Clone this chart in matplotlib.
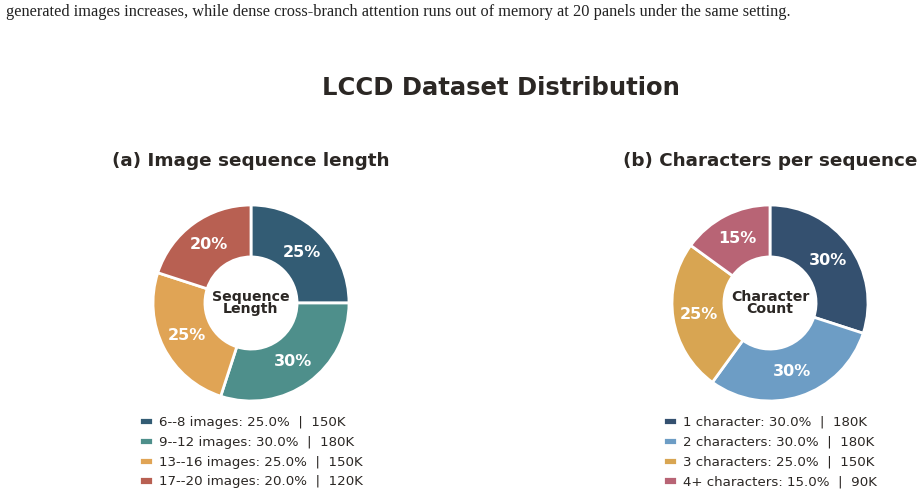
import matplotlib
matplotlib.use("Agg")
import matplotlib.pyplot as plt

plt.rcParams["font.family"] = ["DejaVu Sans"]

# ---- data ----
caption = ("generated images increases, while dense cross-branch attention runs out of "
           "memory at 20 panels under the same setting.")
main_title = "LCCD Dataset Distribution"

a_title = "(a) Image sequence length"
a_center = "Sequence\nLength"
a_labels = ["6--8 images", "9--12 images", "13--16 images", "17--20 images"]
a_counts = [150, 180, 150, 120]  # thousands
a_colors = ["#335C74", "#4E8F8B", "#E0A455", "#B86052"]

b_title = "(b) Characters per sequence"
b_center = "Character\nCount"
b_labels = ["1 character", "2 characters", "3 characters", "4+ characters"]
b_counts = [180, 180, 150, 90]  # thousands
b_colors = ["#34506F", "#6D9DC5", "#D8A552", "#B86475"]

TEXT = "#2B2724"
W, H = 924, 495
fig = plt.figure(figsize=(W / 100, H / 100), dpi=100)
fig.patch.set_facecolor("white")


def fx(px):
    return px / W


def fy(py):
    return 1 - py / H


fig.text(fx(6), fy(16), caption, family="Liberation Serif", fontsize=11.8,
         color="#222222", ha="left", va="baseline")
fig.text(fx(501), fy(95), main_title, fontsize=17.5, fontweight="bold",
         color=TEXT, ha="center", va="baseline")


def donut(cx, title, center_txt, labels, counts, colors):
    R = 98
    ax = fig.add_axes([fx(cx - R), fy(303 + R), 2 * R / W, 2 * R / H])
    total = sum(counts)
    wedges, _, autotexts = ax.pie(
        counts, colors=colors, startangle=90, counterclock=False,
        radius=1.0, pctdistance=0.735,
        autopct=lambda p: f"{p:.0f}%",
        wedgeprops=dict(width=0.53, edgecolor="white", linewidth=2),
        textprops=dict(color="white", fontsize=11.5, fontweight="bold"))
    ax.set_xlim(-1, 1)
    ax.set_ylim(-1, 1)
    ax.set_aspect("equal")
    ax.axis("off")
    ax.text(0, 0, center_txt, ha="center", va="center", fontsize=10.2,
            fontweight="bold", color=TEXT, linespacing=0.9)
    fig.text(fx(cx), fy(166), title, fontsize=13.2, fontweight="bold",
             color=TEXT, ha="center", va="baseline")
    leg_labels = [f"{l}: {c / total * 100:.1f}%  |  {c}K" for l, c in zip(labels, counts)]
    fig.legend(wedges, leg_labels, loc="upper center",
               bbox_to_anchor=(fx(cx), fy(409)), frameon=False,
               fontsize=9.6, handlelength=1.0, handleheight=0.62,
               handletextpad=0.45, labelspacing=0.52, borderpad=0,
               labelcolor=TEXT)


donut(251, a_title, a_center, a_labels, a_counts, a_colors)
donut(770, b_title, b_center, b_labels, b_counts, b_colors)

fig.savefig("out.png", dpi=100, facecolor="white")
